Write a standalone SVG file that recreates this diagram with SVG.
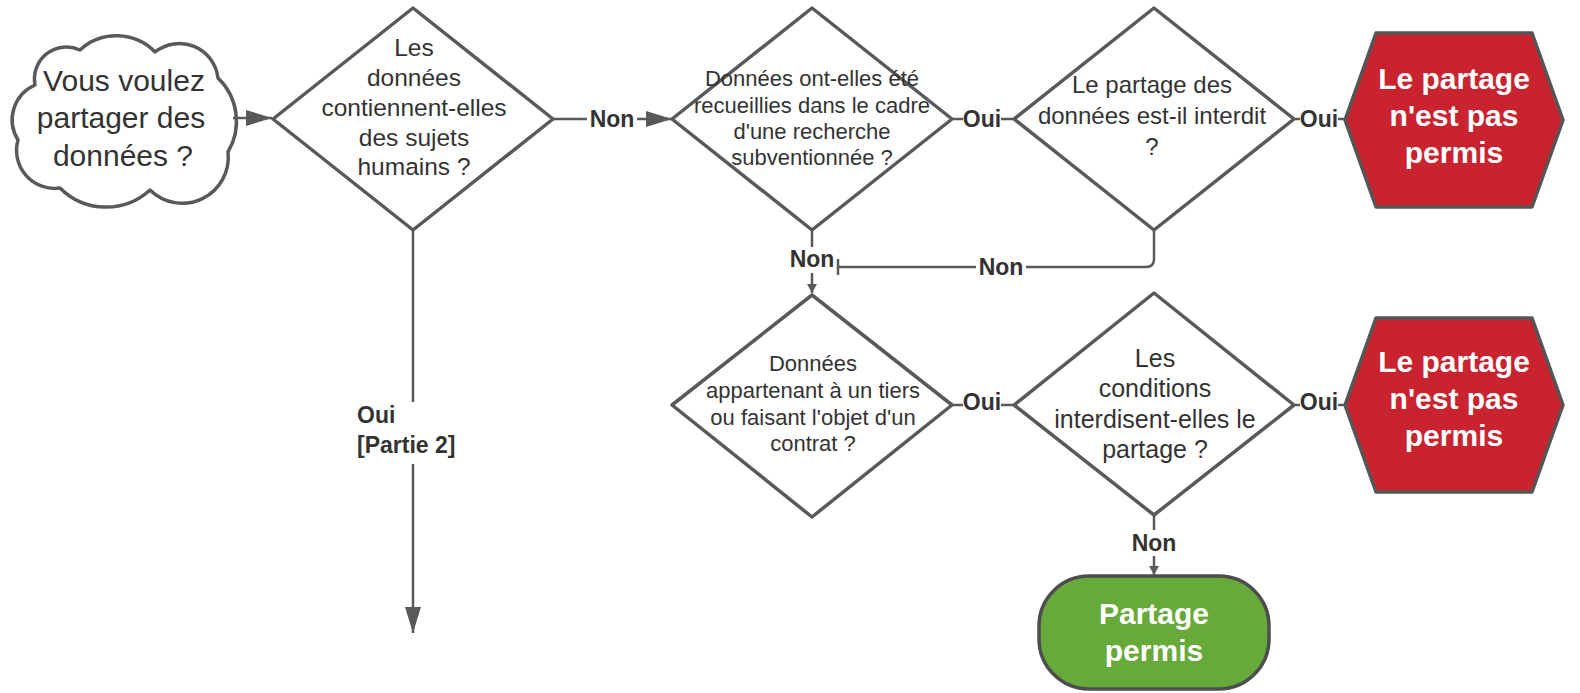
<svg xmlns="http://www.w3.org/2000/svg" width="1580" height="693" viewBox="0 0 1580 693">
<style>
.shape{fill:#fff;stroke:#595959;stroke-width:3.5;stroke-linejoin:round}
.stop{fill:#c8232f;stroke:#555;stroke-width:3.5;stroke-linejoin:round}
.ok{fill:#67a93a;stroke:#4d4d4d;stroke-width:3.5}
.conn{fill:none;stroke:#595959;stroke-width:2.5}
.t{font-family:"Liberation Sans",Arial,sans-serif;fill:#333;text-anchor:middle}
.w{font-family:"Liberation Sans",Arial,sans-serif;fill:#fff;font-weight:bold;font-size:30px;text-anchor:middle}
.lbl{font-family:"Liberation Sans",Arial,sans-serif;fill:#333;font-weight:bold;font-size:23px;text-anchor:middle}
.bg{fill:#fff}
</style>
<defs>
<marker id="arrL" markerUnits="userSpaceOnUse" markerWidth="27" markerHeight="18" refX="26" refY="9" orient="auto"><path d="M0,1 L26,9 L0,17 Z" fill="#595959"/></marker>
<marker id="arrS" markerUnits="userSpaceOnUse" markerWidth="10" markerHeight="11" refX="9" refY="5.5" orient="auto"><path d="M0,0.5 L9,5.5 L0,10.5 Z" fill="#595959"/></marker>
</defs>
<rect width="1580" height="693" fill="#fff"/>

<g id="start">
<path class="shape" d="M35,85 A32,32 0 0 1 80,50 A54,54 0 0 1 155,52 A39,39 0 0 1 218,78 A60,60 0 0 1 228,152 A46,46 0 0 1 150,190 A65,65 0 0 1 60,188 A38,38 0 0 1 18,140 A38,38 0 0 1 35,85 Z"/>
<text class="t" style="font-size:30px"><tspan x="124" y="90.5">Vous voulez</tspan><tspan x="121" y="128">partager des</tspan><tspan x="123" y="165.5">données ?</tspan></text>
</g>

<g id="q1">
<polygon class="shape" points="413,8 553,119 413,230 273,119"/>
<text class="t" style="font-size:24.5px"><tspan x="414" y="55.5">Les</tspan><tspan x="414" y="85.5">données</tspan><tspan x="414" y="115.5">contiennent-elles</tspan><tspan x="414" y="145.5">des sujets</tspan><tspan x="414" y="175">humains ?</tspan></text>
</g>

<g id="q2">
<polygon class="shape" points="812,8 952,119 812,230 672,119"/>
<text class="t" style="font-size:22px"><tspan x="812" y="85.7">Données ont-elles été</tspan><tspan x="812" y="112.7">recueillies dans le cadre</tspan><tspan x="812" y="138.7">d'une recherche</tspan><tspan x="812" y="164.7">subventionnée ?</tspan></text>
</g>

<g id="q3">
<polygon class="shape" points="1154,8 1294,119 1154,230 1014,119"/>
<text class="t" style="font-size:24px"><tspan x="1152" y="93.4">Le partage des</tspan><tspan x="1152" y="124.4">données est-il interdit</tspan><tspan x="1152" y="155.4">?</tspan></text>
</g>

<g id="stop1">
<polygon class="stop" points="1345,120 1376,33 1532,33 1563,120 1532,207 1376,207"/>
<text class="w"><tspan x="1454" y="88.5">Le partage</tspan><tspan x="1454" y="125.5">n'est pas</tspan><tspan x="1454" y="162.5">permis</tspan></text>
</g>

<g id="q4">
<polygon class="shape" points="812,295 952,405 812,517 672,405"/>
<text class="t" style="font-size:22px"><tspan x="813" y="370.7">Données</tspan><tspan x="813" y="397.7">appartenant à un tiers</tspan><tspan x="813" y="424.7">ou faisant l'objet d'un</tspan><tspan x="813" y="450.7">contrat ?</tspan></text>
</g>

<g id="q5">
<polygon class="shape" points="1154,293 1294,405 1154,515 1014,405"/>
<text class="t" style="font-size:25px"><tspan x="1155" y="366.7">Les</tspan><tspan x="1155" y="397.2">conditions</tspan><tspan x="1155" y="427.7">interdisent-elles le</tspan><tspan x="1155" y="458.2">partage ?</tspan></text>
</g>

<g id="stop2">
<polygon class="stop" points="1345,405 1376,318 1532,318 1563,405 1532,492 1376,492"/>
<text class="w"><tspan x="1454" y="371.5">Le partage</tspan><tspan x="1454" y="408.5">n'est pas</tspan><tspan x="1454" y="445.5">permis</tspan></text>
</g>

<g id="ok">
<rect class="ok" x="1039" y="576" width="230" height="113" rx="50" ry="50"/>
<text class="w"><tspan x="1154" y="623.5">Partage</tspan><tspan x="1154" y="660.5">permis</tspan></text>
</g>

<g id="connectors">
<line class="conn" x1="233" y1="118" x2="272" y2="118" marker-end="url(#arrL)"/>
<line class="conn" x1="553" y1="119" x2="672" y2="119" marker-end="url(#arrL)"/>
<rect class="bg" x="587" y="106" width="50" height="26"/>
<text class="lbl" x="612" y="127">Non</text>

<line class="conn" x1="413" y1="231" x2="413" y2="633" marker-end="url(#arrL)"/>
<rect class="bg" x="355" y="402" width="114" height="62"/>
<text class="lbl" x="357" y="423" style="text-anchor:start">Oui</text>
<text class="lbl" x="357" y="453" style="text-anchor:start">[Partie 2]</text>

<line class="conn" x1="953" y1="119" x2="1013" y2="119"/>
<rect class="bg" x="963" y="106" width="38" height="26"/>
<text class="lbl" x="982" y="127">Oui</text>

<line class="conn" x1="1295" y1="119" x2="1344" y2="119"/>
<rect class="bg" x="1300" y="106" width="38" height="26"/>
<text class="lbl" x="1319" y="127">Oui</text>

<line class="conn" x1="812" y1="231" x2="812" y2="293" marker-end="url(#arrS)"/>
<rect class="bg" x="787" y="247" width="50" height="26"/>
<text class="lbl" x="812" y="267">Non</text>

<path class="conn" d="M1154,231 V259 Q1154,267 1146,267 H838"/>
<line class="conn" x1="838" y1="259" x2="838" y2="275"/>
<rect class="bg" x="976" y="254" width="50" height="26"/>
<text class="lbl" x="1001" y="275">Non</text>

<line class="conn" x1="953" y1="405" x2="1013" y2="405"/>
<rect class="bg" x="963" y="392" width="38" height="26"/>
<text class="lbl" x="982" y="410">Oui</text>

<line class="conn" x1="1295" y1="405" x2="1344" y2="405"/>
<rect class="bg" x="1300" y="392" width="38" height="26"/>
<text class="lbl" x="1319" y="410">Oui</text>

<line class="conn" x1="1154" y1="516" x2="1154" y2="575" marker-end="url(#arrS)"/>
<rect class="bg" x="1129" y="530" width="50" height="26"/>
<text class="lbl" x="1154" y="551">Non</text>
</g>
</svg>
